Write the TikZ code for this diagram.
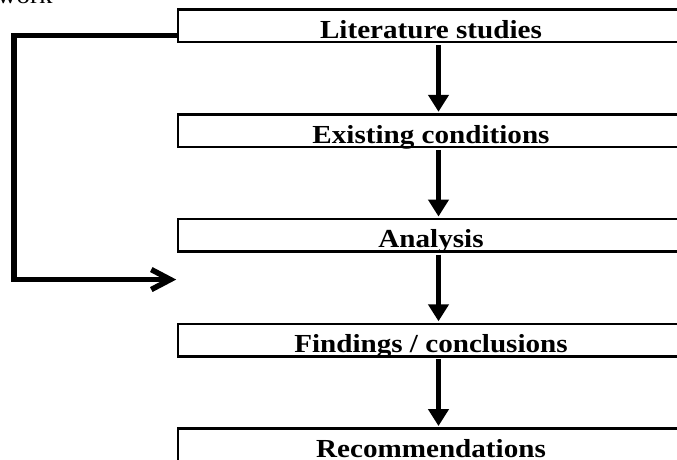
\documentclass[tikz,border=0pt]{standalone}
\usepackage{fontspec}
\setmainfont{Liberation Serif}[FakeStretch=1.12]
\usepackage{tikz}
\usetikzlibrary{arrows.meta, positioning}

\begin{document}
\begin{tikzpicture}[
    x=1pt, y=1pt,
    stage/.style = {draw, line width=2.5pt, minimum height=32.5pt, minimum width=505.6pt,
                    inner sep=0pt, outer sep=0pt, text height=25pt, text depth=0pt,
                    font=\fontsize{26}{30}\selectfont\bfseries},
    flow/.style = {line width=5.8pt, -{Triangle[width=20pt, length=17pt]}},
    feedback/.style = {line width=5.5pt, -{Straight Barb[length=19pt, width=20pt]}},
    node distance=72.25pt
  ]
  \useasboundingbox (0,0) rectangle (677,-459);

  % Nodes
  \node[anchor=base east, font=\fontsize{24}{28}\selectfont] (title) at (56,-3) {work};
  \node[stage] (lit) at (431,-25.8) {Literature studies};
  \node[stage, below=of lit] (exist) {Existing conditions};
  \node[stage, below=of exist] (ana) {Analysis};
  \node[stage, below=of ana] (find) {Findings / conclusions};
  \node[stage, below=of find] (rec) {Recommendations};

  % Arrows
  \draw[flow] ([xshift=7.5pt, yshift=-3pt]lit.south) -- ([xshift=7.5pt, yshift=2.5pt]exist.north);
  \draw[flow] ([xshift=7.5pt, yshift=-3pt]exist.south) -- ([xshift=7.5pt, yshift=2.5pt]ana.north);
  \draw[flow] ([xshift=7.5pt, yshift=-3pt]ana.south) -- ([xshift=7.5pt, yshift=2.5pt]find.north);
  \draw[flow] ([xshift=7.5pt, yshift=-3pt]find.south) -- ([xshift=7.5pt, yshift=2.5pt]rec.north);

  % Feedback loop
  \coordinate (loopend) at ([xshift=-2pt, yshift=-28pt]ana.south west);
  \draw[feedback] ([yshift=-9.7pt]lit.west) -- ++(-164pt,0) |- (loopend);

\end{tikzpicture}
\end{document}
